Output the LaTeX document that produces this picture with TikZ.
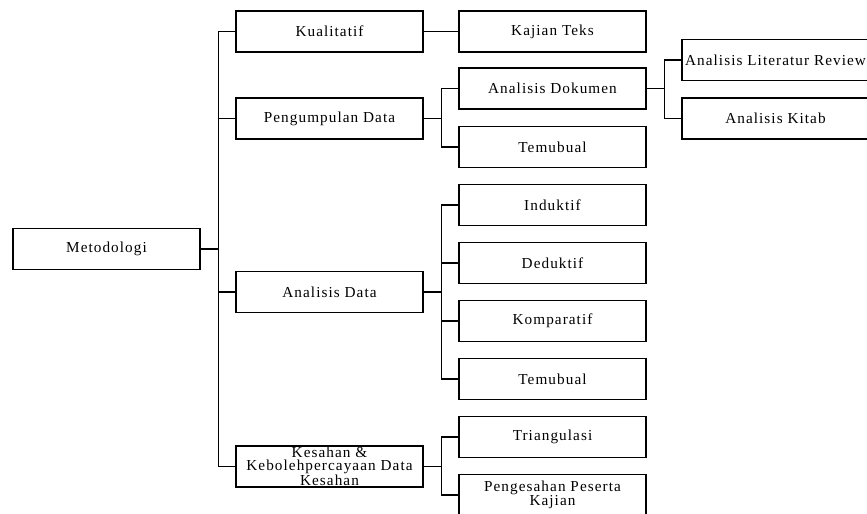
\documentclass[tikz,border=0pt]{standalone}
\usepackage{fontspec}
\setmainfont[LetterSpace=7]{Liberation Serif}
\usetikzlibrary{calc}

\begin{document}
\begin{tikzpicture}[x=0.03cm, y=-0.03cm, line width=1pt,
	box/.style={draw, minimum width=5.61cm, minimum height=1.23cm, inner sep=0pt, align=center, font=\fontsize{13}{11.5}\selectfont},
	link/.style={line width=1pt}]
	\clip (0,0) rectangle (867,514);
	\node[box] (met) at (106.5,249) {Metodologi};
	\node[box] (kual) at (329.5,31.5) {Kualitatif};
	\node[box] (peng) at (329.5,118.5) {Pengumpulan Data};
	\node[box] (anad) at (329.5,292) {Analisis Data};
	\node[box] (kes) at (329.5,466.5) {Kesahan \&\\Kebolehpercayaan Data\\Kesahan};
	\node[box] (kaj) at (552.5,31.5) {Kajian Teks};
	\node[box] (dok) at (552.5,88.5) {Analisis Dokumen};
	\node[box] (tem1) at (552.5,147) {Temubual};
	\node[box] (ind) at (552.5,205) {Induktif};
	\node[box] (ded) at (552.5,263) {Deduktif};
	\node[box] (kom) at (552.5,321) {Komparatif};
	\node[box] (tem2) at (552.5,379) {Temubual};
	\node[box] (tri) at (552.5,437) {Triangulasi};
	\node[box] (pes) at (552.5,495) {Pengesahan Peserta\\Kajian};
	\node[box] (lit) at (775.5,60) {Analisis Literatur Review};
	\node[box] (kit) at (775.5,118.5) {Analisis Kitab};

	\foreach \c in {kual,peng,anad,kes}
		\draw[link] (met.east) -- ++(18,0) |- (\c.west);
	\draw[link] (kual.east) -- (kaj.west);
	\foreach \c in {dok,tem1}
		\draw[link] (peng.east) -- ++(18,0) |- (\c.west);
	\foreach \c in {ind,ded,kom,tem2}
		\draw[link] (anad.east) -- ++(18,0) |- (\c.west);
	\foreach \c in {tri,pes}
		\draw[link] (kes.east) -- ++(18,0) |- (\c.west);
	\foreach \c in {lit,kit}
		\draw[link] (dok.east) -- ++(18,0) |- (\c.west);
\end{tikzpicture}
\end{document}
